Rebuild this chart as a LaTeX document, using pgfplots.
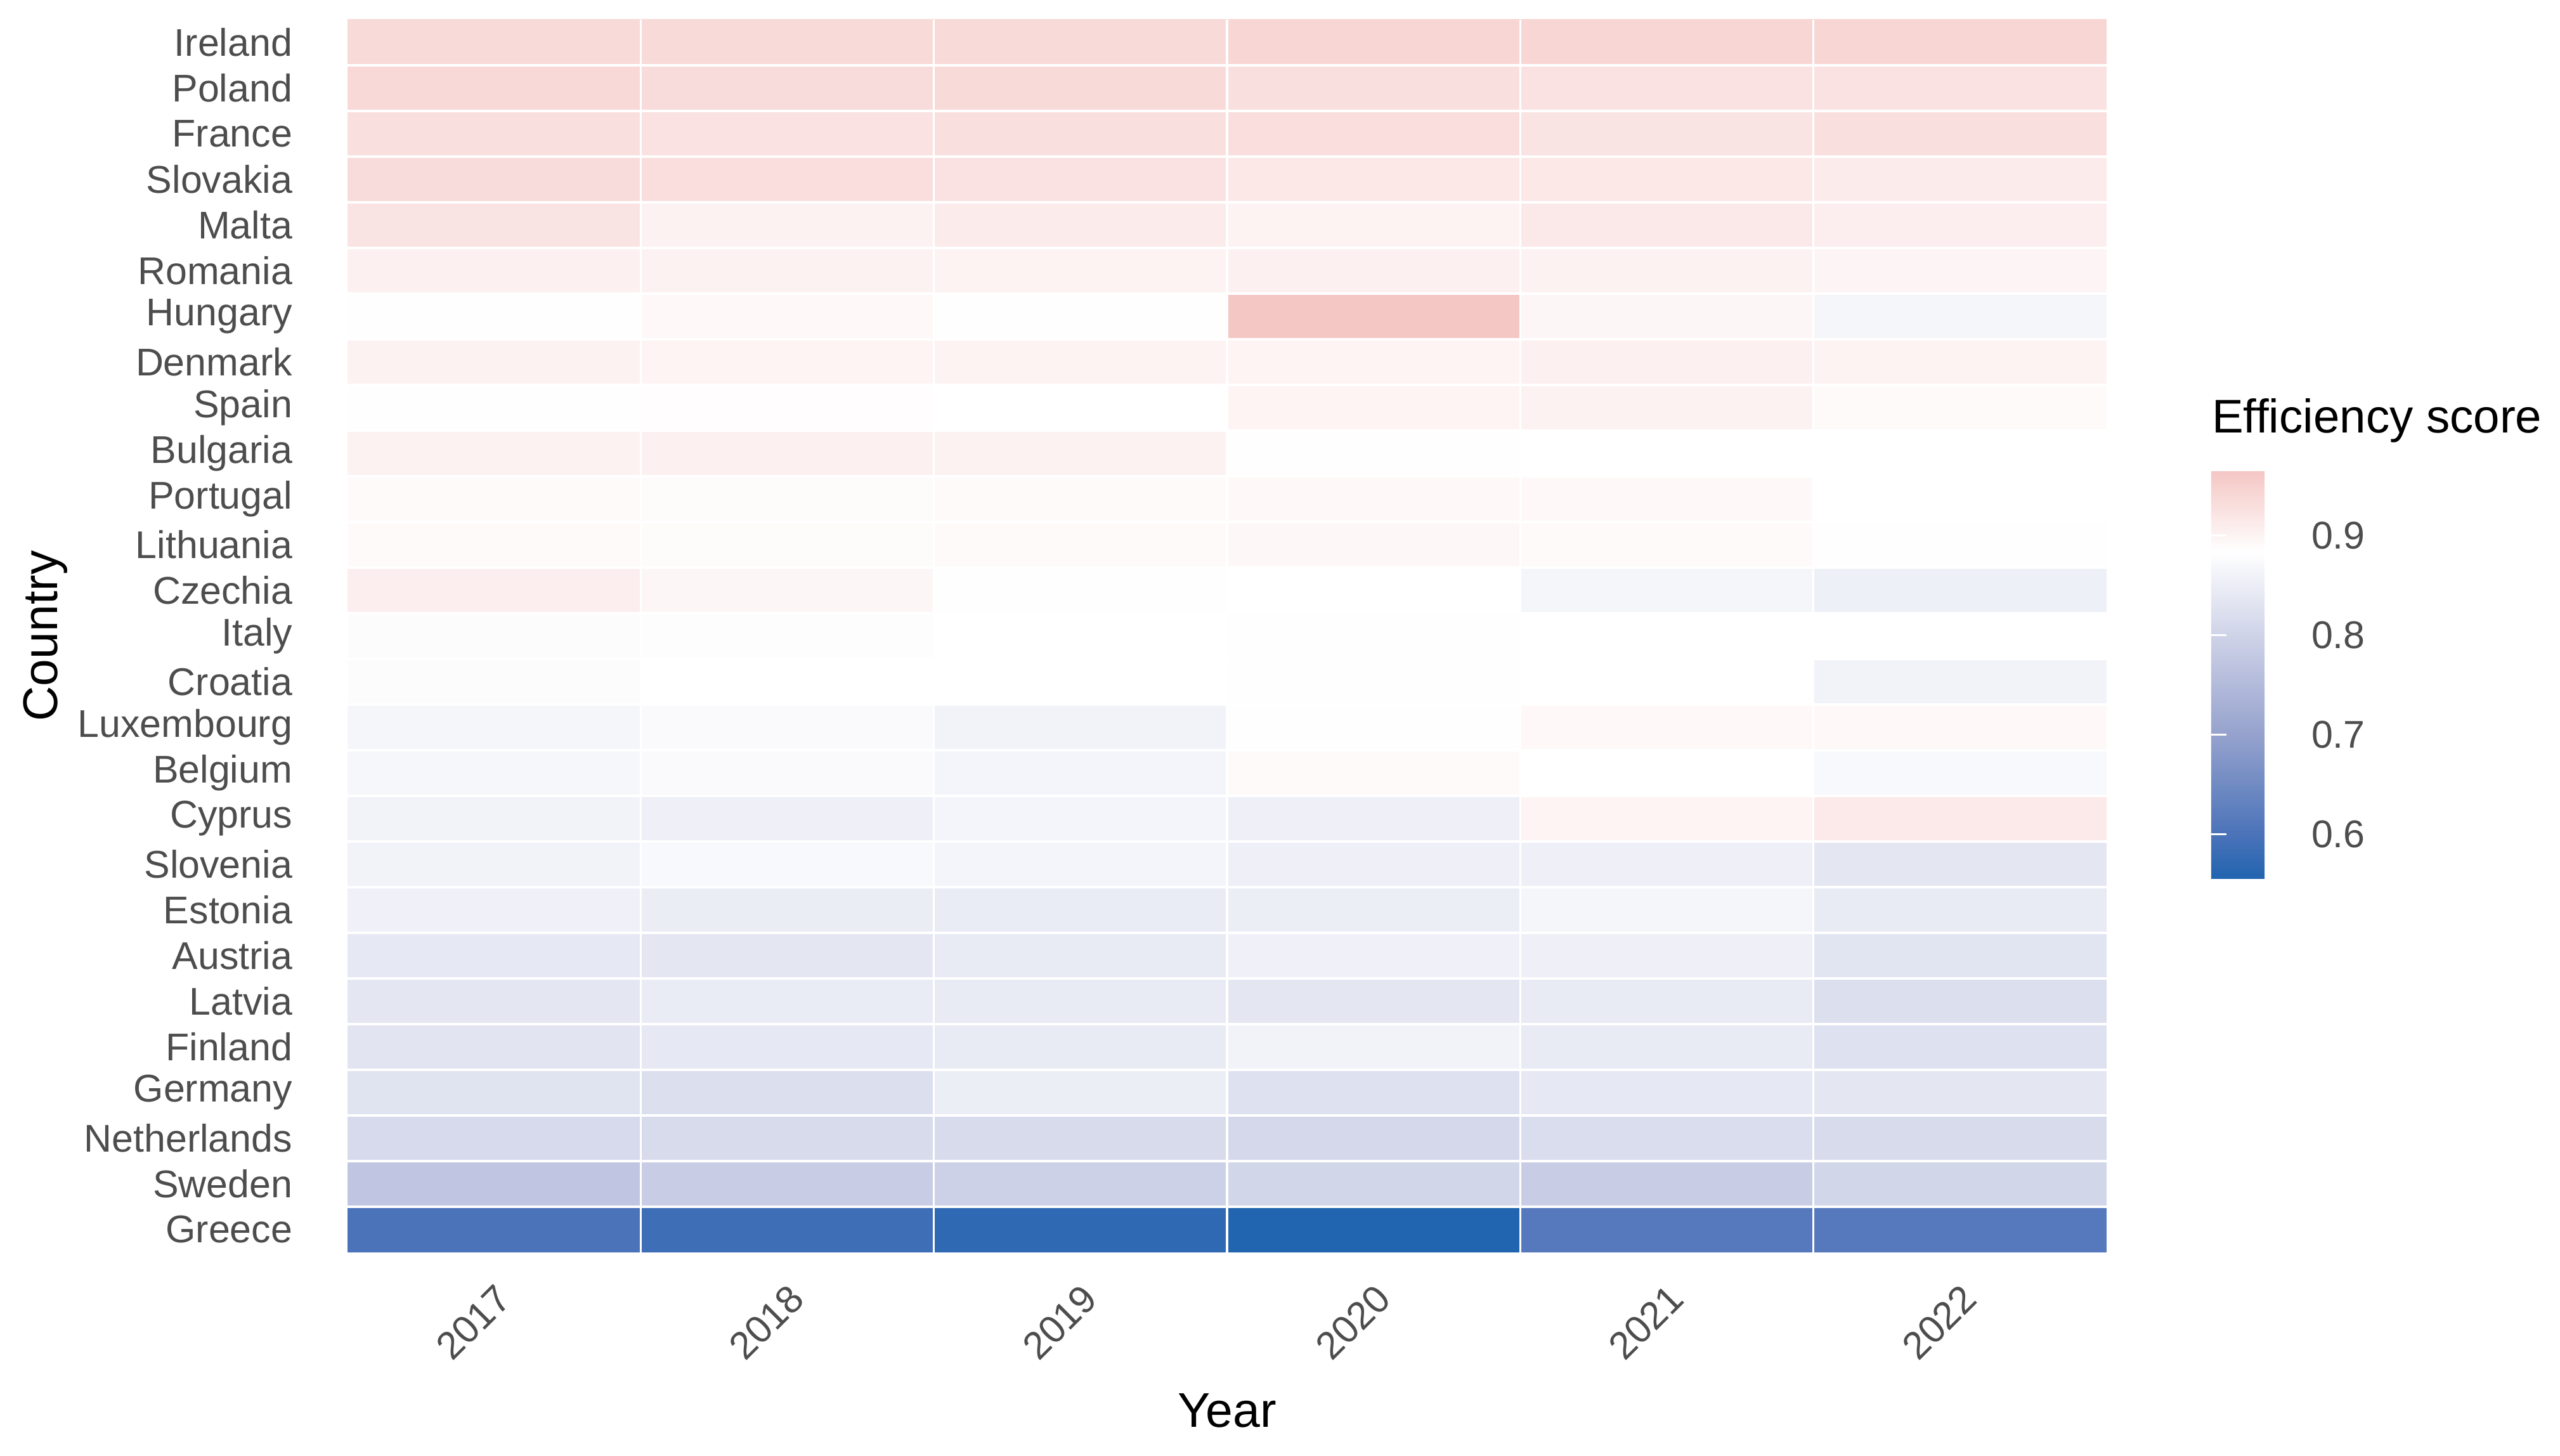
\documentclass[border=0pt]{standalone}
\usepackage{pgfplots}
\pgfplotsset{compat=1.18}
\usepackage{fontspec}
\setmainfont{Liberation Sans}

\definecolor{ticktxt}{HTML}{4D4D4D}

% efficiency scores, x = year index (0 = 2017), y = country index (0 = Greece)
\begin{document}
\begin{tikzpicture}
\useasboundingbox (0,0) rectangle (24cm,13.644cm);
\begin{axis}[
    at={(3.258cm,13.460cm)}, anchor=north west,
    width=16.491cm, height=11.557cm, scale only axis,
    xmin=-0.5, xmax=5.5, ymin=-0.5, ymax=26.5,
    enlargelimits=false,
    axis line style={draw=none},
    major tick length=0pt, minor tick length=0pt,
    xtick={0,...,5},
    xticklabels={2017,2018,2019,2020,2021,2022},
    ytick={0,...,26},
    yticklabels={Greece,Sweden,Netherlands,Germany,Finland,Latvia,Austria,Estonia,Slovenia,Cyprus,Belgium,Luxembourg,Croatia,Italy,Czechia,Lithuania,Portugal,Bulgaria,Spain,Denmark,Hungary,Romania,Malta,Slovakia,France,Poland,Ireland},
    minor xtick={0.5,1.5,2.5,3.5,4.5},
    minor ytick={0.5,1.5,...,25.5},
    xminorgrids, yminorgrids,
    minor grid style={white, line width=0.6pt},
    axis on top,
    yticklabel style={anchor=east, inner sep=0pt, xshift=-0.51cm, text=ticktxt, font=\fontsize{10.3}{12}\selectfont},
    xticklabel style={yshift=-0.27cm, rotate=45, anchor=north east, inner sep=0pt, text=ticktxt, font=\fontsize{10.3}{12}\selectfont},
    xlabel={Year},
    ylabel={Country},
    xlabel style={at={(axis description cs:0.5,-0.1415)}, anchor=base, inner sep=0pt, font=\fontsize{13}{15}\selectfont},
    ylabel style={at={(axis description cs:-0.165,0.5)}, rotate=0, anchor=base, inner sep=0pt, font=\fontsize{13}{15}\selectfont},
    colormap={eff}{rgb255(0cm)=(33,100,175); rgb255(0.44cm)=(75,115,185); rgb255(1.44cm)=(150,162,205); rgb255(2.44cm)=(207,211,232); rgb255(3.28cm)=(255,255,255); rgb255(4.096cm)=(244,198,196)},
    point meta min=0.556, point meta max=0.9656,
    colorbar,
    colorbar style={
        at={(parent axis.north east)}, anchor=north west,
        xshift=0.681cm, yshift=-4.227cm,
        width=0.719cm, height=3.823cm,
        axis line style={draw=none},
        ytick={0.6,0.7,0.8,0.9},
        yticklabels={0.6,0.7,0.8,0.9},
        ytick pos=both, yticklabel pos=right,
        tick align=inside,
        major tick length=0.144cm,
        major tick style={white, line width=0.5pt},
        yticklabel style={anchor=west, inner sep=0pt, xshift=0.214cm, text=ticktxt, font=\fontsize{10.3}{12}\selectfont},
        title={Efficiency score},
        title style={at={(0,1)}, anchor=base west, inner sep=0pt, yshift=0.145cm, font=\fontsize{12.6}{15}\selectfont},
    },
]
\addplot[matrix plot*, mesh/cols=6, point meta=explicit] table[x=x, y=y, meta=v] {
x y v
0 0 0.600
1 0 0.585
2 0 0.572
3 0 0.556
4 0 0.613
5 0 0.613
0 1 0.774
1 1 0.788
2 1 0.796
3 1 0.805
4 1 0.788
5 1 0.805
0 2 0.814
1 2 0.816
2 2 0.816
3 2 0.809
4 2 0.819
5 2 0.816
0 3 0.830
1 3 0.823
2 3 0.851
3 3 0.826
4 3 0.840
5 3 0.837
0 4 0.833
1 4 0.840
2 4 0.844
3 4 0.861
4 4 0.844
5 4 0.826
0 5 0.837
1 5 0.847
2 5 0.844
3 5 0.837
4 5 0.844
5 5 0.823
0 6 0.840
1 6 0.837
2 6 0.844
3 6 0.858
4 6 0.854
5 6 0.832
0 7 0.858
1 7 0.849
2 7 0.847
3 7 0.851
4 7 0.867
5 7 0.844
0 8 0.861
1 8 0.872
2 8 0.865
3 8 0.854
4 8 0.854
5 8 0.837
0 9 0.861
1 9 0.854
2 9 0.865
3 9 0.854
4 9 0.900
5 9 0.914
0 10 0.868
1 10 0.875
2 10 0.865
3 10 0.891
4 10 0.884
5 10 0.872
0 11 0.867
1 11 0.875
2 11 0.861
3 11 0.882
4 11 0.894
5 11 0.894
0 12 0.878
1 12 0.884
2 12 0.884
3 12 0.885
4 12 0.884
5 12 0.861
0 13 0.878
1 13 0.880
2 13 0.884
3 13 0.885
4 13 0.884
5 13 0.884
0 14 0.908
1 14 0.897
2 14 0.882
3 14 0.884
4 14 0.867
5 14 0.855
0 15 0.891
1 15 0.890
2 15 0.891
3 15 0.895
4 15 0.891
5 15 0.885
0 16 0.891
1 16 0.890
2 16 0.891
3 16 0.893
4 16 0.893
5 16 0.884
0 17 0.903
1 17 0.905
2 17 0.903
3 17 0.885
4 17 0.884
5 17 0.884
0 18 0.886
1 18 0.887
2 18 0.884
3 18 0.900
4 18 0.903
5 18 0.891
0 19 0.903
1 19 0.900
2 19 0.901
3 19 0.900
4 19 0.905
5 19 0.901
0 20 0.885
1 20 0.894
2 20 0.885
3 20 0.9656
4 20 0.897
5 20 0.867
0 21 0.905
1 21 0.903
2 21 0.901
3 21 0.905
4 21 0.903
5 21 0.898
0 22 0.923
1 22 0.903
2 22 0.911
3 22 0.901
4 22 0.915
5 22 0.908
0 23 0.934
1 23 0.931
2 23 0.925
3 23 0.917
4 23 0.917
5 23 0.911
0 24 0.928
1 24 0.925
2 24 0.928
3 24 0.931
4 24 0.923
5 24 0.928
0 25 0.938
1 25 0.934
2 25 0.937
3 25 0.928
4 25 0.925
5 25 0.925
0 26 0.937
1 26 0.937
2 26 0.937
3 26 0.943
4 26 0.943
5 26 0.943
};
\end{axis}
\end{tikzpicture}
\end{document}
